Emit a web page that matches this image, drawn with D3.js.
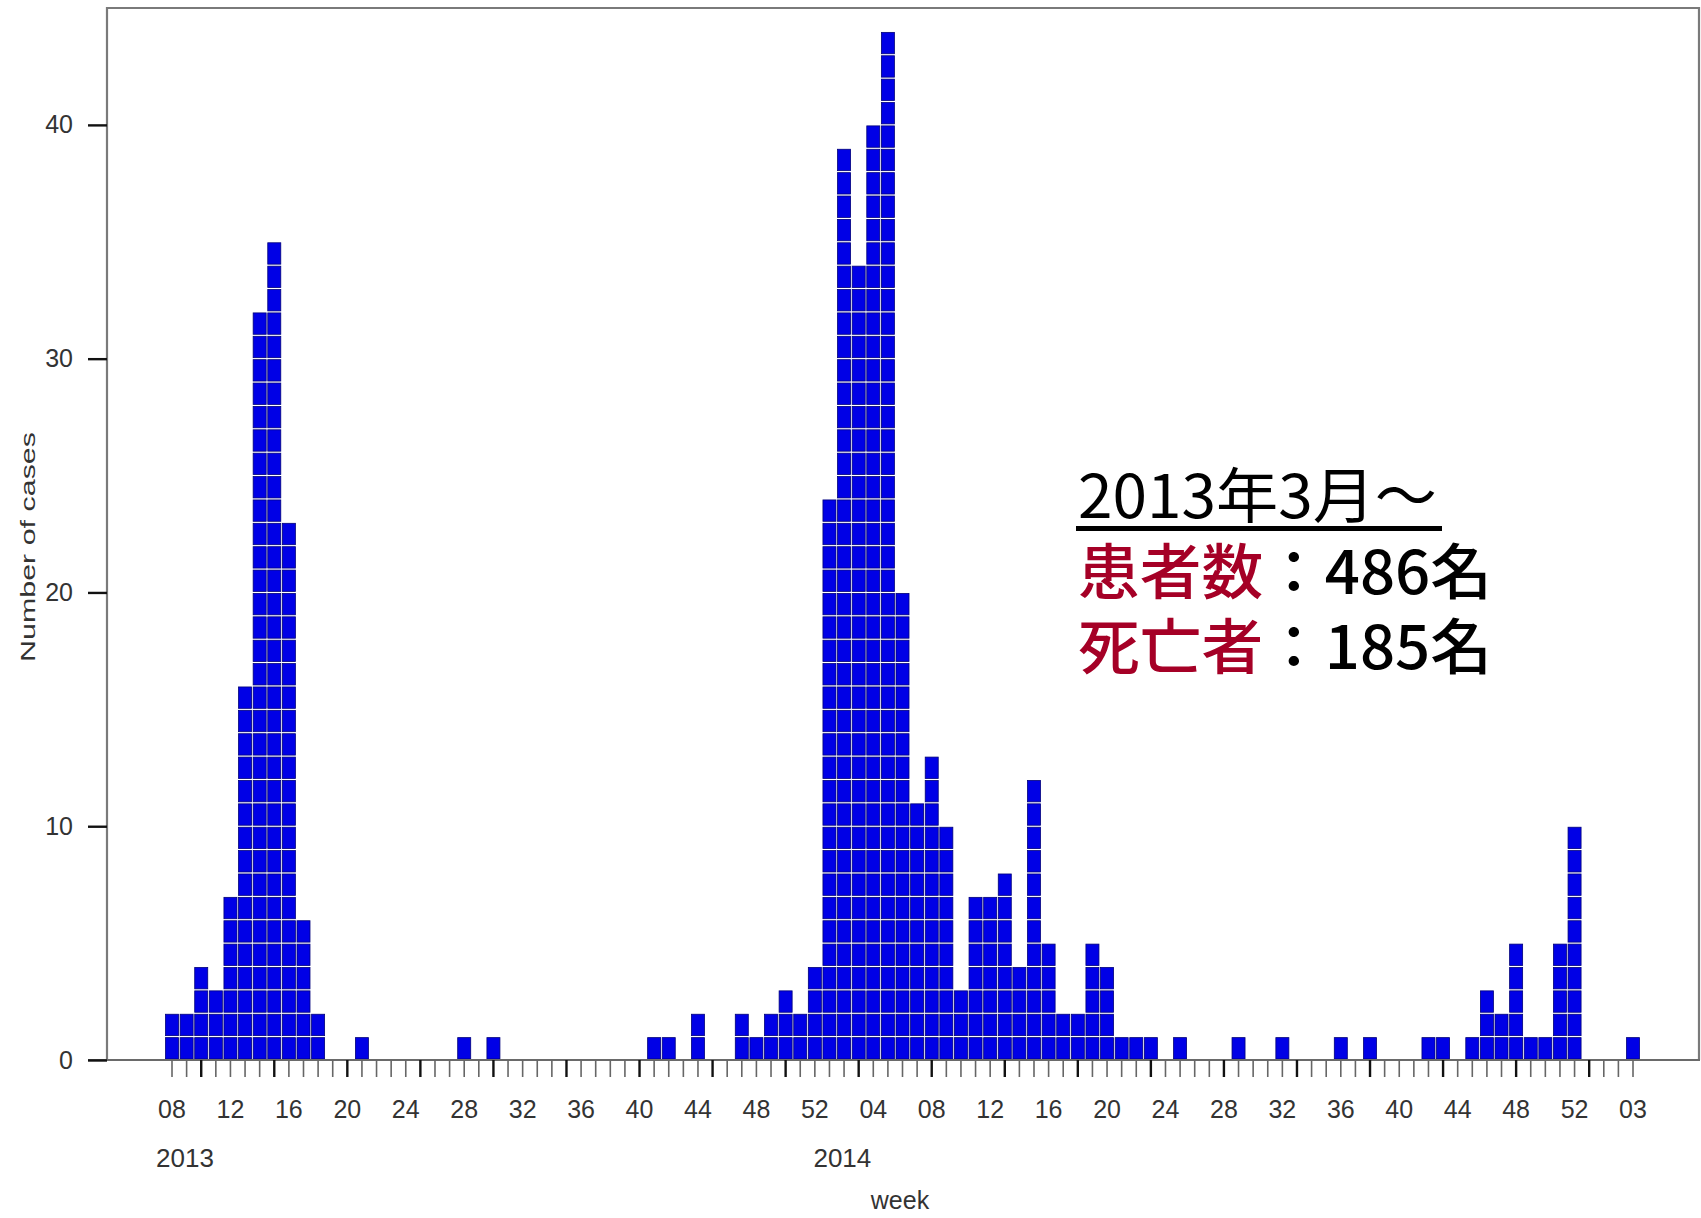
<!DOCTYPE html>
<html>
<head>
<meta charset="utf-8">
<script src="https://cdn.jsdelivr.net/npm/d3@7"></script>
<style>
  html, body { margin: 0; padding: 0; background: #fff; }
  svg { display: block; }
</style>
</head>
<body>
<svg id="canvas" width="1701" height="1218"></svg>
<script>
// weekly case counts
const years = [2013, 2014, 2015];
const yearWeeks = [[8, 52], [1, 53], [1, 3]];

const cases2013 = [2, 2, 4, 3, 7, 16, 32, 35, 23, 6, 2, 0, 0, 1, 0, 0, 0, 0, 0, 0, 1, 0, 1,
                   0, 0, 0, 0, 0, 0, 0, 0, 0, 0, 1, 1, 0, 2, 0, 0, 2, 1, 2, 3, 2, 4];
const cases2014 = [24, 39, 34, 40, 44, 20, 11, 13, 10, 3, 7, 7, 8, 4, 12, 5, 2, 2, 5, 4,
                   1, 1, 1, 0, 1, 0, 0, 0, 1, 0, 0, 1, 0, 0, 0, 1, 0, 1, 0, 0, 0, 1, 1,
                   0, 1, 3, 2, 5, 1, 1, 5, 10, 0];
const cases2015 = [0, 0, 1];

const yTicks = [0, 10, 20, 30, 40];
const yearLabels = ["2013", "2014"];
const noteLines = [
    [{ t: "2013年3月～", c: "#000" }],
    [{ t: "患者数", c: "#a50026" }, { t: "：486名", c: "#000" }],
    [{ t: "死亡者", c: "#a50026" }, { t: "：185名", c: "#000" }]
];

const allCases = [cases2013, cases2014, cases2015];
let weeks = [];
years.forEach((yr, i) => {
    const [from, to] = yearWeeks[i];
    for (let w = from; w <= to; w++) {
        weeks.push({ id: yr + "-" + w, year: yr, week: w, value: allCases[i][w - from] });
    }
});

const canvas = d3.select("#canvas");

const plotLeft = 107, plotRight = 1700, plotTop = 8, plotBottom = 1060;

const x = d3.scaleBand()
    .domain(weeks.map((d) => d.id))
    .range([164.7, 164.7 + 14.61 * weeks.length])
    .padding(0);

const y = d3.scaleLinear().domain([0, 45]).range([plotBottom, plotTop]);

const cx = (d) => x(d.id) + x.bandwidth() / 2;

// cells, one square per case
let cells = [];
weeks.forEach((d) => {
    for (let k = 0; k < d.value; k++) {
        cells.push({ id: d.id, k: k });
    }
});

canvas.append("g")
    .selectAll("rect")
    .data(cells)
    .enter()
    .append("rect")
    .attr("x", (d) => x(d.id) + 0.8)
    .attr("width", x.bandwidth() - 1.6)
    .attr("y", (d) => y(d.k + 1) + 1)
    .attr("height", (d) => y(d.k) - y(d.k + 1) - 2)
    .attr("fill", "#0000e6")
    .attr("stroke", "#00007a")
    .attr("stroke-width", 0.8);

// box
canvas.append("path")
    .attr("d", `M${plotLeft},${plotBottom} L${plotLeft},${plotTop} L${plotRight - 1},${plotTop} L${plotRight - 1},${plotBottom}`)
    .attr("fill", "none")
    .attr("stroke", "#7a7a7a")
    .attr("stroke-width", 2.2);

canvas.append("line")
    .attr("x1", 88).attr("x2", plotRight)
    .attr("y1", plotBottom).attr("y2", plotBottom)
    .attr("stroke", "#6a6a6a")
    .attr("stroke-width", 2.2);

// y axis
const yAxis = d3.axisLeft(y).tickValues(yTicks).tickSize(19).tickPadding(15);
const gy = canvas.append("g").attr("transform", `translate(${plotLeft},0)`).call(yAxis);
gy.select(".domain").remove();
gy.selectAll(".tick line").attr("stroke", "#111").attr("stroke-width", 2.4);
gy.selectAll(".tick text")
    .attr("font-family", "Liberation Sans, Arial, sans-serif")
    .attr("font-size", 25)
    .attr("fill", "#333");

// x ticks, every week
canvas.append("g")
    .selectAll("line")
    .data(weeks)
    .enter()
    .append("line")
    .attr("x1", cx).attr("x2", cx)
    .attr("y1", plotBottom).attr("y2", plotBottom + 17)
    .attr("stroke", (d, i) => (i % 5 === 2 ? "#111" : "#666"))
    .attr("stroke-width", (d, i) => (i % 5 === 2 ? 2.4 : 1.6));

// week labels every 4 weeks
canvas.append("g")
    .selectAll("text")
    .data(weeks.filter((d, i) => i % 4 === 0))
    .enter()
    .append("text")
    .attr("x", cx)
    .attr("y", 1118)
    .attr("text-anchor", "middle")
    .attr("font-family", "Liberation Sans, Arial, sans-serif")
    .attr("font-size", 25)
    .attr("fill", "#333")
    .text((d) => String(d.week).padStart(2, "0"));

// year labels under first week of each year
canvas.append("g")
    .selectAll("text")
    .data(yearLabels)
    .enter()
    .append("text")
    .attr("x", (d) => cx(weeks.find((w) => String(w.year) === d)) - 16)
    .attr("y", 1167)
    .attr("font-family", "Liberation Sans, Arial, sans-serif")
    .attr("font-size", 26)
    .attr("fill", "#333")
    .text((d) => d);

canvas.append("text")
    .attr("x", 900)
    .attr("y", 1209)
    .attr("text-anchor", "middle")
    .attr("font-family", "Liberation Sans, Arial, sans-serif")
    .attr("font-size", 25)
    .attr("fill", "#333")
    .text("week");

canvas.append("text")
    .attr("transform", "translate(35,547) rotate(-90)")
    .attr("text-anchor", "middle")
    .attr("font-family", "Liberation Sans, Arial, sans-serif")
    .attr("font-size", 21)
    .attr("fill", "#333")
    .attr("textLength", 230)
    .attr("lengthAdjust", "spacingAndGlyphs")
    .text("Number of cases");

// annotation block
const noteX = 1078;
const noteBase = [518, 594, 669];
const noteLen = [359, 414, 414];
noteLines.forEach((parts, i) => {
    const t = canvas.append("text")
        .attr("x", noteX)
        .attr("y", noteBase[i])
        .attr("font-family", "Noto Sans CJK JP, sans-serif")
        .attr("font-size", 60)
        .attr("font-weight", i === 0 ? 400 : 500)
        .attr("textLength", noteLen[i])
        .attr("lengthAdjust", "spacingAndGlyphs");
    parts.forEach((p) => {
        t.append("tspan").attr("fill", p.c).text(p.t);
    });
});

canvas.append("rect")
    .attr("x", 1076).attr("y", 526)
    .attr("width", 366).attr("height", 5)
    .attr("fill", "#000");
</script>
</body>
</html>
